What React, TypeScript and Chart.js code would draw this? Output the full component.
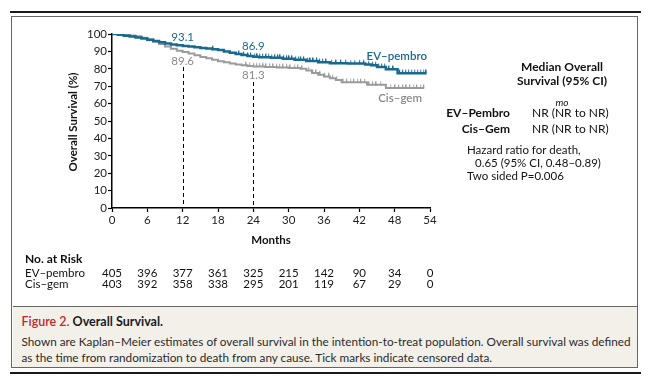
import React, { useEffect, useRef } from 'react';
import { Chart, registerables } from 'chart.js';
Chart.register(...registerables);

const FONT = 'Lato, "Open Sans", sans-serif';
const EV_COLOR = '#17698f';
const CIS_COLOR = '#9b9b9b';
const CIS_TEXT = '#8a8a8a';

// Kaplan–Meier step points (months, % surviving)
const evMonths = [0, 1, 2, 3, 4, 5, 6, 7, 8, 9, 10, 11, 12, 13, 14, 15, 16, 17, 18, 19, 20, 21, 22, 23, 24, 25, 27, 29, 31, 33, 35, 37, 40, 43, 44, 45, 46.5, 48.5, 53.4];
const evSurv = [100, 99.5, 99.0, 98.5, 98.0, 97.4, 96.7, 96.0, 95.3, 94.6, 94.0, 93.5, 93.1, 92.8, 92.4, 92.0, 91.6, 91.2, 90.8, 90.0, 89.2, 88.5, 87.9, 87.4, 86.9, 86.7, 86.3, 85.8, 85.2, 84.5, 83.8, 83.2, 83.0, 82.5, 82.0, 81.0, 79.8, 77.5, 77.5];
const cisMonths = [0, 2, 3, 4, 5, 6, 7, 8, 9, 10, 11, 12, 13, 14, 15, 16, 17, 18, 19, 20, 21, 22, 23, 24, 26, 28, 30, 32, 33, 34, 35, 36, 37, 38, 39, 43.3, 46.5, 53];
const cisSurv = [100, 99.7, 99.2, 98.7, 97.8, 96.8, 95.6, 94.2, 92.8, 91.5, 90.4, 89.6, 88.8, 87.8, 86.8, 86.0, 85.2, 84.4, 83.7, 83.1, 82.5, 82.0, 81.6, 81.3, 81.1, 80.8, 80.5, 80.1, 79.0, 77.6, 76.6, 75.6, 74.6, 73.6, 72.3, 70.8, 69.0, 69.0];

// censoring times (months)
const evCensor = [17.2, 21.6, 22.4, 23.1, 23.6, 24.2, 24.7, 25.1, 25.6, 26.2, 26.6, 27.1, 27.7, 28.2, 28.6, 29.2, 29.7, 30.1, 30.6, 31.2, 31.7, 32.1, 32.6, 33.2, 33.7, 34.2, 34.8, 35.3, 35.8, 36.4, 37.3, 38.1, 38.9, 39.7, 40.5, 41.2, 42.1, 42.8, 43.6, 44.3, 44.8, 45.3, 45.8, 46.3, 47.1, 47.8, 48.9, 49.4, 49.9, 50.4, 50.9, 51.4, 51.9, 52.4, 52.9, 53.4];
const cisCensor = [22.8, 23.4, 24.1, 24.6, 25.1, 25.7, 26.2, 26.8, 27.4, 28.0, 28.5, 29.1, 29.7, 30.3, 31.0, 31.6, 32.3, 33.4, 34.0, 34.7, 35.4, 36.2, 36.9, 37.5, 38.2, 39.3, 39.9, 40.5, 41.1, 41.7, 42.3, 42.9, 43.7, 44.3, 44.9, 45.6, 47.3, 48.1, 48.7, 49.4, 50.0, 50.6, 51.2, 51.8, 52.4, 53.0];

const riskMonths = [0, 6, 12, 18, 24, 30, 36, 42, 48, 54];
const riskEV = [405, 396, 377, 361, 325, 215, 142, 90, 34, 0];
const riskCis = [403, 392, 358, 338, 295, 201, 119, 67, 29, 0];

const landmarkMonths = [12, 24];
const evLandmark = ['93.1', '86.9'];
const cisLandmark = ['89.6', '81.3'];

function stepValue(months: number[], surv: number[], t: number) {
  let v = surv[0];
  for (let i = 0; i < months.length; i++) if (months[i] <= t) v = surv[i];
  return v;
}

function tickImage(color: string) {
  const c = document.createElement('canvas');
  c.width = 2;
  c.height = 12;
  const g = c.getContext('2d')!;
  g.fillStyle = color;
  g.fillRect(0, 2.5, 1.2, 4);
  return c;
}

const overlay = {
  id: 'overlay',
  afterDraw(chart: any) {
    const ctx = chart.ctx;
    const xs = chart.scales.x;
    const ys = chart.scales.y;
    ctx.save();
    ctx.textBaseline = 'middle';

    // dashed landmark lines
    ctx.strokeStyle = '#000';
    ctx.lineWidth = 1;
    ctx.setLineDash([4, 3]);
    const dashTop = [67, 82];
    landmarkMonths.forEach((m, i) => {
      const px = Math.round(xs.getPixelForValue(m)) + 0.5;
      ctx.beginPath();
      ctx.moveTo(px, dashTop[i]);
      ctx.lineTo(px, ys.getPixelForValue(0));
      ctx.stroke();
    });
    ctx.setLineDash([]);

    // landmark labels
    ctx.font = `11.5px ${FONT}`;
    ctx.textAlign = 'center';
    const evLabY = [37, 46];
    const cisLabY = [61.5, 75];
    landmarkMonths.forEach((m, i) => {
      const px = xs.getPixelForValue(m);
      ctx.fillStyle = EV_COLOR;
      ctx.fillText(evLandmark[i], px, evLabY[i]);
      ctx.fillStyle = CIS_TEXT;
      ctx.fillText(cisLandmark[i], px, cisLabY[i]);
    });

    // curve labels
    ctx.font = `600 11.5px ${FONT}`;
    ctx.textAlign = 'right';
    ctx.fillStyle = EV_COLOR;
    ctx.fillText('EV\u2013pembro', 427, 56);
    ctx.fillStyle = CIS_TEXT;
    ctx.fillText('Cis\u2013gem', 422, 98);

    // axis titles
    ctx.fillStyle = '#111';
    ctx.font = `bold 11.5px ${FONT}`;
    ctx.textAlign = 'center';
    ctx.fillText('Months', (xs.left + xs.right) / 2, 240);
    ctx.save();
    ctx.translate(73, 122);
    ctx.rotate(-Math.PI / 2);
    ctx.fillText('Overall Survival (%)', 0, 0);
    ctx.restore();

    // right panel
    ctx.fillStyle = '#111';
    ctx.font = `bold 12px ${FONT}`;
    ctx.textAlign = 'center';
    ctx.fillText('Median Overall', 562, 67);
    ctx.fillText('Survival (95% CI)', 562, 81);
    ctx.font = `italic 10px ${FONT}`;
    ctx.fillText('mo', 562, 103);
    ctx.font = `bold 12px ${FONT}`;
    ctx.textAlign = 'right';
    ctx.fillText('EV\u2013Pembro', 510, 113.5);
    ctx.fillText('Cis\u2013Gem', 510, 129.5);
    ctx.font = `12px ${FONT}`;
    ctx.textAlign = 'left';
    ctx.fillText('NR (NR to NR)', 532, 113.5);
    ctx.fillText('NR (NR to NR)', 532, 129.5);
    ctx.font = `11.5px ${FONT}`;
    ctx.fillText('Hazard ratio for death,', 467, 150);
    ctx.fillText('0.65 (95% CI, 0.48\u20130.89)', 475, 163);
    ctx.fillText('Two sided P=0.006', 467, 176);

    // risk table
    ctx.font = `bold 12px ${FONT}`;
    ctx.fillText('No. at Risk', 25, 259.5);
    ctx.font = `11.5px ${FONT}`;
    ctx.fillText('EV\u2013pembro', 25, 273);
    ctx.fillText('Cis\u2013gem', 25, 284.5);
    ctx.textAlign = 'center';
    riskMonths.forEach((m, i) => {
      const px = xs.getPixelForValue(m);
      ctx.fillText(String(riskEV[i]), px, 273);
      ctx.fillText(String(riskCis[i]), px, 284.5);
    });
    ctx.restore();
  },
};

export default function App() {
  const ref = useRef<HTMLCanvasElement | null>(null);
  useEffect(() => {
    if (!ref.current) return;
    const evPts = evMonths.map((m, i) => ({ x: m, y: evSurv[i] }));
    const cisPts = cisMonths.map((m, i) => ({ x: m, y: cisSurv[i] }));
    const evC = evCensor.map((t) => ({ x: t, y: stepValue(evMonths, evSurv, t) }));
    const cisC = cisCensor.map((t) => ({ x: t, y: stepValue(cisMonths, cisSurv, t) }));
    const tickFont = { family: FONT, size: 11.5 };
    const chart = new Chart(ref.current, {
      type: 'line',
      data: {
        datasets: [
          { data: evPts, stepped: true, borderColor: EV_COLOR, borderWidth: 2.5, pointRadius: 0, order: 1 },
          { data: evC, showLine: false, pointStyle: tickImage(EV_COLOR), pointRadius: 3, order: 2 },
          { data: cisPts, stepped: true, borderColor: CIS_COLOR, borderWidth: 2, pointRadius: 0, order: 3 },
          { data: cisC, showLine: false, pointStyle: tickImage(CIS_COLOR), pointRadius: 3, order: 4 },
        ] as any,
      },
      options: {
        animation: false,
        responsive: false,
        devicePixelRatio: 1,
        events: [],
        layout: { padding: { left: 60, right: 225, top: 34, bottom: 78 } },
        plugins: { legend: { display: false }, tooltip: { enabled: false } },
        scales: {
          x: {
            type: 'linear',
            min: 0,
            max: 54,
            ticks: { stepSize: 6, color: '#222', font: tickFont, padding: 1, maxRotation: 0 },
            grid: { drawOnChartArea: false, drawTicks: true, tickLength: 4, color: '#000', tickWidth: 1.2 },
            border: { display: true, color: '#000', width: 1.5 },
            afterFit: (s: any) => { s.height = 20; },
          },
          y: {
            type: 'linear',
            min: 0,
            max: 100,
            ticks: { stepSize: 10, color: '#222', font: tickFont, padding: 1 },
            grid: { drawOnChartArea: false, drawTicks: true, tickLength: 4, color: '#000', tickWidth: 1.2 },
            border: { display: true, color: '#000', width: 1.5 },
            afterFit: (s: any) => { s.width = 52; },
          },
        },
      } as any,
      plugins: [overlay],
    });
    return () => chart.destroy();
  }, []);

  return (
    <div style={{ position: 'absolute', left: 0, top: 0, width: 655, height: 381, background: '#fff', fontFamily: FONT, overflow: 'hidden' }}>
      <div style={{ position: 'absolute', left: 10, top: 11, width: 631, height: 2, background: '#1a1a1a' }} />
      <div style={{ position: 'absolute', left: 11, top: 16, width: 627, height: 352, border: '1.5px solid #666', boxSizing: 'border-box' }} />
      <canvas ref={ref} width={655} height={306} style={{ position: 'absolute', left: 0, top: 0, width: 655, height: 306 }} />
      <div style={{ position: 'absolute', left: 12.5, top: 306, width: 624, height: 60.5, background: '#f3f0ea', borderTop: '1.5px solid #666', boxSizing: 'border-box' }}>
        <div style={{ position: 'absolute', left: 9, top: 7, fontSize: 12.5, lineHeight: '16px', whiteSpace: 'nowrap' }}>
          <span style={{ color: '#c0272d', fontWeight: 600 }}>Figure 2.</span>
          <span style={{ color: '#1a1a1a', fontWeight: 700 }}> Overall Survival.</span>
        </div>
        <div style={{ position: 'absolute', left: 9, top: 27, fontSize: 11.75, lineHeight: '16px', color: '#2a2a2a', whiteSpace: 'nowrap' }}>
          <div>Shown are Kaplan–Meier estimates of overall survival in the intention-to-treat population. Overall survival was defined</div>
          <div>as the time from randomization to death from any cause. Tick marks indicate censored data.</div>
        </div>
      </div>
      <div style={{ position: 'absolute', left: 10, top: 372, width: 631, height: 2, background: '#1a1a1a' }} />
    </div>
  );
}
